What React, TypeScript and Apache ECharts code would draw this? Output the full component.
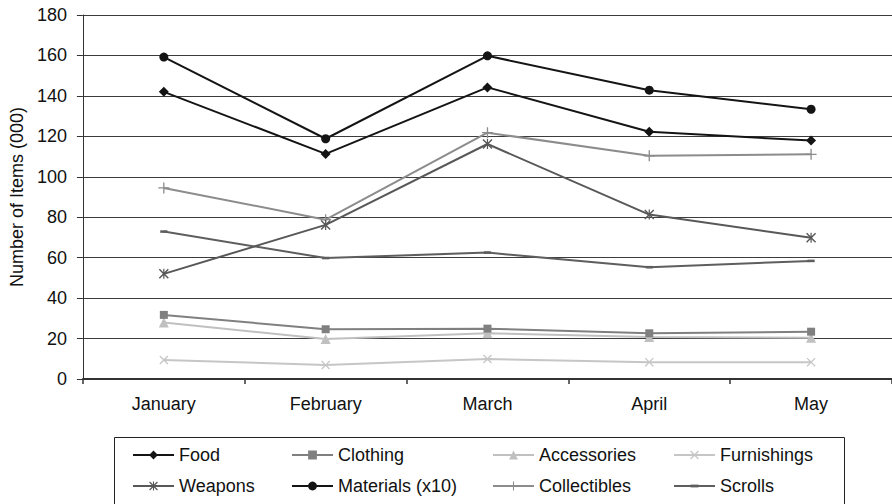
import React, { useEffect, useRef } from "react";
import * as echarts from "echarts";

// Monthly inventory counts, in thousands of items
const months = ["January", "February", "March", "April", "May"];
const food = [142, 111.3, 144.2, 122.3, 117.9];
const clothing = [31.7, 24.6, 24.9, 22.6, 23.4];
const accessories = [27.9, 19.8, 22.6, 20.8, 20.4];
const furnishings = [9.4, 6.9, 9.9, 8.3, 8.3];
const weapons = [52, 76.2, 116.2, 81.3, 69.8];
const materials = [159.2, 118.8, 159.8, 142.8, 133.4];
const collectibles = [94.5, 78.8, 121.8, 110.4, 111.1];
const scrolls = [72.9, 59.8, 62.5, 55.3, 58.4];

const yTicks = { min: 0, max: 180, interval: 20 };

const FONT = "'Liberation Sans', Arial, Helvetica, sans-serif";

// Marker shapes (filled outlines; the corner moves pad the bounding box)
const crossPath =
  "path://M0,1L1,0L5,4L9,0L10,1L6,5L10,9L9,10L5,6L1,10L0,9L4,5Z";
const plusPath =
  "path://M4.4,0H5.6V4.4H10V5.6H5.6V10H4.4V5.6H0V4.4H4.4Z";
const starPath =
  "path://M0,1L1,0L5,4L9,0L10,1L6,5L10,9L9,10L5,6L1,10L0,9L4,5Z M4.4,0H5.6V10H4.4Z";
const dashPath = "path://M0,0L0,0M0.5,3.4H9.5V6.6H0.5Z M10,10L10,10";

function makeSeries(
  name: string,
  values: number[],
  color: string,
  symbol: string,
  symbolSize: number
) {
  return {
    name,
    type: "line",
    data: values,
    symbol,
    symbolSize,
    showSymbol: true,
    lineStyle: { color, width: 2 },
    itemStyle: { color, borderWidth: 0 },
    emphasis: { disabled: true },
  };
}

function legendColumn(left: number, names: string[]) {
  return {
    orient: "vertical",
    left,
    top: 446,
    height: 80,
    padding: 0,
    itemWidth: 41,
    itemHeight: 11,
    itemGap: 13,
    data: names,
    selectedMode: false,
    textStyle: { fontFamily: FONT, fontSize: 18, color: "#111" },
  };
}

export default function App() {
  const ref = useRef<HTMLDivElement>(null);

  useEffect(() => {
    if (!ref.current) return;
    const chart = echarts.init(ref.current, undefined, { renderer: "svg" });
    chart.setOption({
      animation: false,
      backgroundColor: "#ffffff",
      textStyle: { fontFamily: FONT },
      grid: { left: 81, right: -2, top: 15, bottom: 125, containLabel: false },
      xAxis: {
        type: "category",
        data: months,
        boundaryGap: true,
        axisLine: { lineStyle: { color: "#333", width: 2 } },
        axisTick: { show: true, length: 5, lineStyle: { color: "#333", width: 1.5 } },
        axisLabel: { fontFamily: FONT, fontSize: 18, color: "#111", margin: 16 },
        splitLine: { show: false },
      },
      yAxis: {
        type: "value",
        min: yTicks.min,
        max: yTicks.max,
        interval: yTicks.interval,
        name: "Number of Items (000)",
        nameLocation: "middle",
        nameGap: 54,
        nameTextStyle: { fontFamily: FONT, fontSize: 18, color: "#111" },
        axisLine: { show: true, lineStyle: { color: "#333", width: 1 } },
        axisTick: { show: true, length: 6, lineStyle: { color: "#333" } },
        axisLabel: { fontFamily: FONT, fontSize: 18, color: "#111", margin: 16 },
        splitLine: { show: true, lineStyle: { color: "#3c3c3c", width: 1 } },
      },
      legend: [
        legendColumn(132, ["Food", "Weapons"]),
        legendColumn(291, ["Clothing", "Materials (x10)"]),
        legendColumn(492, ["Accessories", "Collectibles"]),
        legendColumn(673, ["Furnishings", "Scrolls"]),
      ],
      graphic: [
        {
          type: "rect",
          shape: { x: 114.5, y: 437.5, width: 730, height: 90 },
          style: { fill: "none", stroke: "#222", lineWidth: 1 },
          z: -1,
        },
      ],
      series: [
        makeSeries("Furnishings", furnishings, "#c6c6c6", crossPath, 9),
        makeSeries("Accessories", accessories, "#c0c0c0", "triangle", 10),
        makeSeries("Clothing", clothing, "#808080", "rect", 8),
        makeSeries("Scrolls", scrolls, "#5e5e5e", dashPath, 8),
        makeSeries("Collectibles", collectibles, "#8c8c8c", plusPath, 11),
        makeSeries("Weapons", weapons, "#585858", starPath, 10),
        makeSeries("Food", food, "#141414", "diamond", 10),
        makeSeries("Materials (x10)", materials, "#141414", "circle", 9),
      ],
    });
    return () => chart.dispose();
  }, []);

  return (
    <div
      ref={ref}
      style={{ position: "fixed", left: 0, top: 0, width: 892, height: 504 }}
    />
  );
}
